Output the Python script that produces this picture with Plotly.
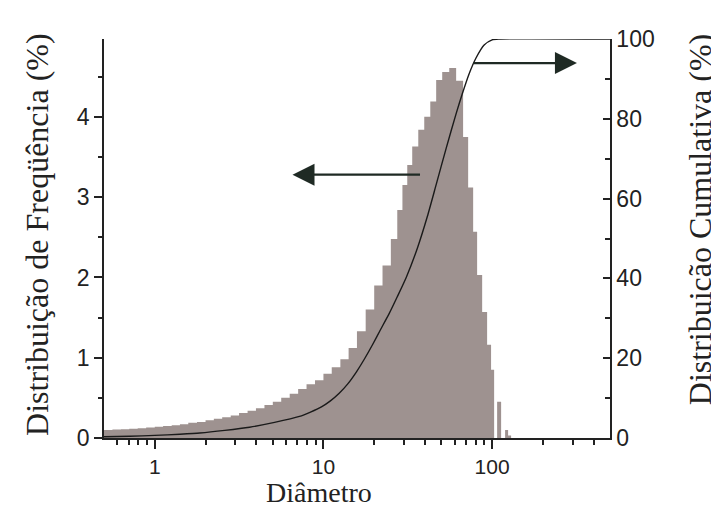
import plotly.graph_objects as go

# Histogram bins (diameter edges) and frequency (%) per bin
bin_edges = [0.5, 0.561, 0.630, 0.706, 0.792, 0.889, 1.0, 1.12, 1.26, 1.41, 1.58, 1.78, 2.0,
             2.24, 2.51, 2.82, 3.16, 3.55, 3.98, 4.47, 5.01, 5.62, 6.31, 7.08, 7.94, 8.91, 10.0,
             11.2, 12.6, 14.1, 15.8, 17.8, 20.0, 22.4, 25.1, 27.4, 29.4, 31.4, 33.6, 36.5, 39.6,
             43.0, 46.6, 50.6, 55.7, 61.2, 67.3, 72.1, 77.2, 81.5, 87.3, 93.4, 98.6, 102.8,
             107.1, 113.1, 119.4, 124.4, 129.6]
freq = [0.10, 0.105, 0.11, 0.115, 0.12, 0.13, 0.14, 0.15, 0.16, 0.17, 0.19, 0.20, 0.22,
        0.24, 0.26, 0.28, 0.31, 0.34, 0.37, 0.41, 0.45, 0.50, 0.55, 0.61, 0.67, 0.72,
        0.80, 0.88, 0.98, 1.12, 1.33, 1.60, 1.90, 2.15, 2.48, 2.84, 3.15, 3.40, 3.63, 3.84,
        4.00, 4.19, 4.46, 4.56, 4.61, 4.45, 3.75, 3.12, 2.57, 2.03, 1.57, 1.16, 0.85, 0.0,
        0.45, 0.0, 0.10, 0.03]

# Cumulative distribution curve
cum_d = [0.5, 0.711, 1.0, 1.41, 1.85, 2.6, 3.65, 5.13, 7.21, 8.38, 9.73, 11.0, 12.4, 13.9,
         15.7, 17.5, 19.5, 21.7, 24.6, 27.4, 31.0, 36.0, 41.3, 46.6, 53.4, 61.2, 66.5, 73.1,
         80.4, 89.7, 100, 110, 500]
cum_pct = [0.3, 0.45, 0.65, 0.95, 1.25, 1.9, 2.7, 3.9, 5.4, 6.5, 7.8, 9.3, 11.2, 13.5,
           16.6, 19.8, 23.3, 27.0, 31.3, 35.4, 40.3, 47.5, 55.5, 63.5, 72.6, 81.3, 86.2, 91.3,
           95.3, 98.5, 99.8, 100, 100]

x_ticks = [1, 10, 100]
x_minor = [0.6, 0.7, 0.8, 0.9, 2, 3, 4, 5, 6, 7, 8, 9, 20, 30, 40, 50, 60, 70, 80, 90, 200, 300, 400]

bar_color = "rgb(158,146,144)"
ink = "#222"
tick_font = dict(family="Liberation Sans, Arial, sans-serif", size=23, color=ink)
xtick_font = dict(family="Liberation Sans, Arial, sans-serif", size=21, color=ink)
title_font = dict(family="Liberation Serif, Times New Roman, serif", size=32, color=ink)
xtitle_font = dict(family="Liberation Serif, Times New Roman, serif", size=28, color=ink)

fig = go.Figure()
fig.add_trace(go.Scatter(
    x=bin_edges, y=freq + [freq[-1]], mode="lines", line_shape="hv",
    line=dict(width=0, color=bar_color), fill="tozeroy", fillcolor=bar_color,
    hoverinfo="skip", showlegend=False))
fig.add_trace(go.Scatter(
    x=cum_d, y=cum_pct, mode="lines", yaxis="y2", line_shape="spline",
    line=dict(color="#1a1a1a", width=1.4, smoothing=0.6), showlegend=False))

fig.update_layout(
    width=711, height=500,
    margin=dict(l=96, r=109, t=31, b=70),
    paper_bgcolor="white", plot_bgcolor="white",
    xaxis=dict(type="log", range=[-0.30103, 2.69897], tickvals=x_ticks,
               ticktext=["1", "10", "100"], ticks="outside", ticklen=9, tickwidth=1.5,
               tickcolor=ink, showline=True, linecolor=ink, linewidth=1.5,
               showgrid=False, zeroline=False, tickfont=xtick_font,
               minor=dict(tickvals=x_minor, ticks="outside", ticklen=5, tickwidth=1.5, tickcolor=ink)),
    yaxis=dict(range=[0, 4.97], tickvals=[0, 1, 2, 3, 4], ticks="outside", ticklen=8,
               tickwidth=1.5, tickcolor=ink, showline=True, linecolor=ink, linewidth=1.5,
               showgrid=False, zeroline=False, tickfont=tick_font,
               minor=dict(tickvals=[0.5, 1.5, 2.5, 3.5, 4.5], ticks="outside", ticklen=4,
                          tickwidth=1.5, tickcolor=ink)),
    yaxis2=dict(range=[0, 100], overlaying="y", side="right", tickvals=[0, 20, 40, 60, 80, 100],
                ticks="inside", ticklen=7, tickwidth=1.5, tickcolor=ink, showline=True,
                linecolor=ink, linewidth=1.5, showgrid=False, zeroline=False, tickfont=tick_font,
                minor=dict(tickvals=[10, 30, 50, 70, 90], ticks="inside", ticklen=5,
                           tickwidth=1.5, tickcolor=ink)),
)

# Axis titles
fig.add_annotation(text="Diâmetro", xref="paper", yref="paper", x=0.425, y=-0.136,
                   showarrow=False, font=xtitle_font, xanchor="center", yanchor="middle")
fig.add_annotation(text="Distribuição de Freqüência (%)", xref="paper", yref="paper",
                   x=-0.1324, y=0.509, textangle=-90, showarrow=False, font=title_font,
                   xanchor="center", yanchor="middle")
fig.add_annotation(text="Distribuição Cumulativa (%)", xref="paper", yref="paper",
                   x=1.178, y=0.546, textangle=-90, showarrow=False, font=title_font,
                   xanchor="center", yanchor="middle")

# Arrows indicating which axis each curve belongs to
fig.add_annotation(x=0.8166, y=3.28, xref="x", yref="y", ax=129, ay=0, axref="pixel", ayref="pixel",
                   showarrow=True, arrowhead=2, arrowsize=2.0, arrowwidth=2.2, arrowcolor="#1f2a24", text="")
fig.add_annotation(x=2.503, y=4.67, xref="x", yref="y", ax=-105, ay=0, axref="pixel", ayref="pixel",
                   showarrow=True, arrowhead=2, arrowsize=2.0, arrowwidth=2.2, arrowcolor="#1f2a24", text="")

fig.write_html("out.html")
